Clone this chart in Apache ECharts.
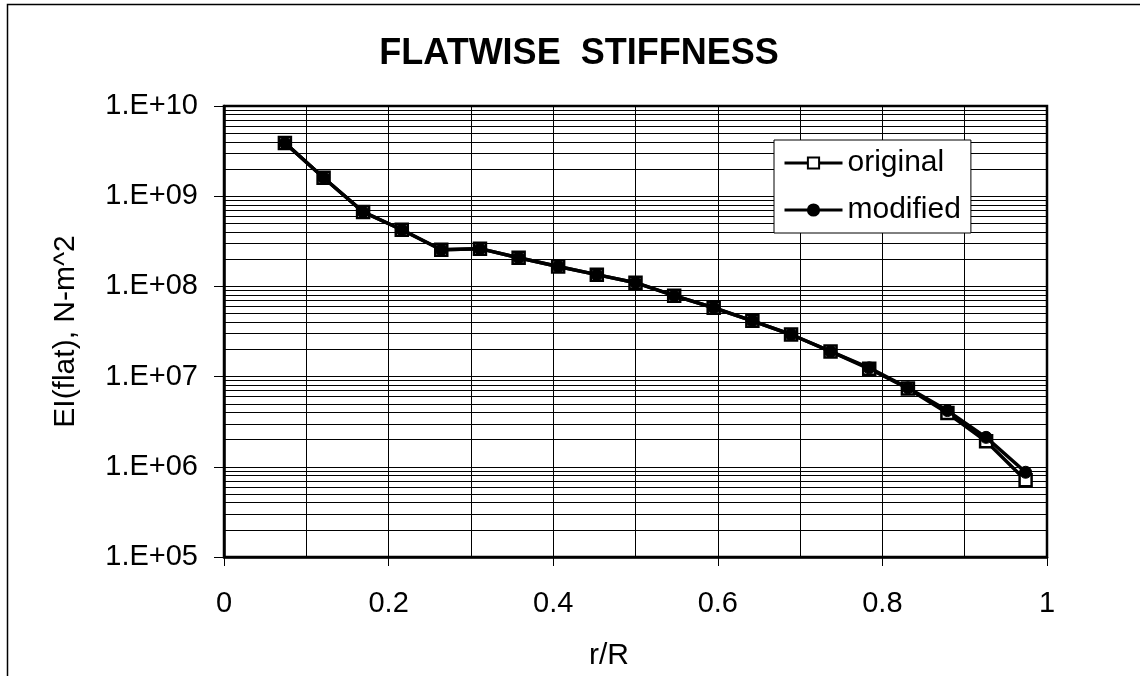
<!DOCTYPE html>
<html>
<head>
<meta charset="utf-8">
<script src="https://cdn.jsdelivr.net/npm/echarts@6/dist/echarts.min.js"></script>
<style>
html,body{margin:0;padding:0;background:#fff;}
#chart{width:1140px;height:676px;}
</style>
</head>
<body>
<div id="chart"></div>
<script>
// r/R positions
const rR = [0.074, 0.121, 0.169, 0.216, 0.264, 0.311, 0.358, 0.406, 0.453, 0.500,
            0.547, 0.595, 0.642, 0.689, 0.737, 0.784, 0.831, 0.879, 0.926, 0.974];
// EI(flat), N-m^2
const original = [3.9e9, 1.6e9, 6.7e8, 4.25e8, 2.55e8, 2.62e8, 2.08e8, 1.66e8, 1.35e8, 1.10e8,
                  7.9e7, 5.8e7, 4.15e7, 2.93e7, 1.9e7, 1.22e7, 7.4e6, 3.95e6, 1.92e6, 7.1e5];
const modified = [3.9e9, 1.6e9, 6.7e8, 4.25e8, 2.55e8, 2.62e8, 2.08e8, 1.66e8, 1.35e8, 1.10e8,
                  7.9e7, 5.8e7, 4.15e7, 2.93e7, 1.9e7, 1.25e7, 7.5e6, 4.2e6, 2.12e6, 8.7e5];
const yTickLabels = ['1.E+05', '1.E+06', '1.E+07', '1.E+08', '1.E+09', '1.E+10'];
const yExponents = [5, 6, 7, 8, 9, 10];
const xTickLabels = ['0', '0.2', '0.4', '0.6', '0.8', '1'];
const minorMultipliers = [2, 3, 4, 5, 6, 7, 8, 9];

const FONT = 'Liberation Sans, Arial, sans-serif';

const minorLines = [];
yExponents.slice(0, -1).forEach(e => {
  minorMultipliers.forEach(m => minorLines.push({ yAxis: m * Math.pow(10, e) }));
});

const chart = echarts.init(document.getElementById('chart'), null, { renderer: 'canvas' });
chart.setOption({
  animation: false,
  backgroundColor: '#fff',
  graphic: [{
    type: 'rect', left: 5, top: 2, z: -10, silent: true,
    shape: { x: 0, y: 0, width: 1200, height: 800 },
    style: { fill: 'none', stroke: '#000', lineWidth: 1.5 }
  }],
  title: {
    text: 'FLATWISE  STIFFNESS',
    left: 574, textAlign: 'center', top: 31,
    textStyle: { fontFamily: FONT, fontWeight: 'bold', fontSize: 36, color: '#000' }
  },
  legend: {
    data: ['original', 'modified'],
    orient: 'vertical',
    left: 774, top: 140,
    padding: [6, 10, 6, 9],
    itemWidth: 58, itemHeight: 14, itemGap: 13,
    backgroundColor: '#fff', borderColor: '#000', borderWidth: 1,
    lineStyle: { width: 3 },
    textStyle: { fontFamily: FONT, fontSize: 30, color: '#000', lineHeight: 34 }
  },
  grid: {
    left: 224, top: 106, right: 93, bottom: 118,
    show: true, borderColor: '#000', borderWidth: 2.5, backgroundColor: 'transparent'
  },
  xAxis: {
    type: 'value', min: 0, max: 1, interval: 0.2,
    name: 'r/R', nameLocation: 'middle', nameGap: 84,
    nameTextStyle: { fontFamily: FONT, fontSize: 30, color: '#000', padding: [0, 53, 0, 0] },
    axisLine: { show: true, lineStyle: { color: '#000', width: 2.5 } },
    axisTick: { show: true, length: 9, lineStyle: { color: '#000', width: 1 } },
    axisLabel: {
      margin: 32, fontFamily: FONT, fontSize: 29, color: '#000',
      formatter: v => xTickLabels[Math.round(v / 0.2)]
    },
    splitLine: { show: true, lineStyle: { color: '#000', width: 1 } },
    minorTick: { show: false, splitNumber: 2 },
    minorSplitLine: { show: true, lineStyle: { color: '#000', width: 1 } }
  },
  yAxis: {
    type: 'log', logBase: 10, min: 1e5, max: 1e10,
    name: 'EI(flat), N-m^2', nameLocation: 'middle', nameGap: 143, nameRotate: 90,
    nameTextStyle: { fontFamily: FONT, fontSize: 30, color: '#000' },
    axisLine: { show: true, lineStyle: { color: '#000', width: 2.5 } },
    axisTick: { show: true, length: 10, lineStyle: { color: '#000', width: 1 } },
    axisLabel: {
      margin: 26, fontFamily: FONT, fontSize: 29, color: '#000',
      formatter: v => {
        const e = Math.round(Math.log10(v));
        const i = yExponents.indexOf(e);
        return i >= 0 ? yTickLabels[i] : '';
      }
    },
    splitLine: { show: true, lineStyle: { color: '#000', width: 1 } }
  },
  series: [
    {
      name: 'original', type: 'line',
      data: rR.map((x, i) => [x, original[i]]),
      symbol: 'rect', symbolSize: 12, showSymbol: true,
      lineStyle: { color: '#000', width: 3.5 },
      itemStyle: { color: '#fff', borderColor: '#000', borderWidth: 2.5 },
      z: 3,
      markLine: {
        silent: true, symbol: 'none', z: 1,
        label: { show: false },
        lineStyle: { color: '#000', width: 1, type: 'solid' },
        emphasis: { disabled: true },
        data: minorLines
      }
    },
    {
      name: 'modified', type: 'line',
      data: rR.map((x, i) => [x, modified[i]]),
      symbol: 'circle', symbolSize: 12, showSymbol: true,
      lineStyle: { color: '#000', width: 3.5 },
      itemStyle: { color: '#000', borderColor: '#000', borderWidth: 1 },
      z: 4
    }
  ]
});
</script>
</body>
</html>
